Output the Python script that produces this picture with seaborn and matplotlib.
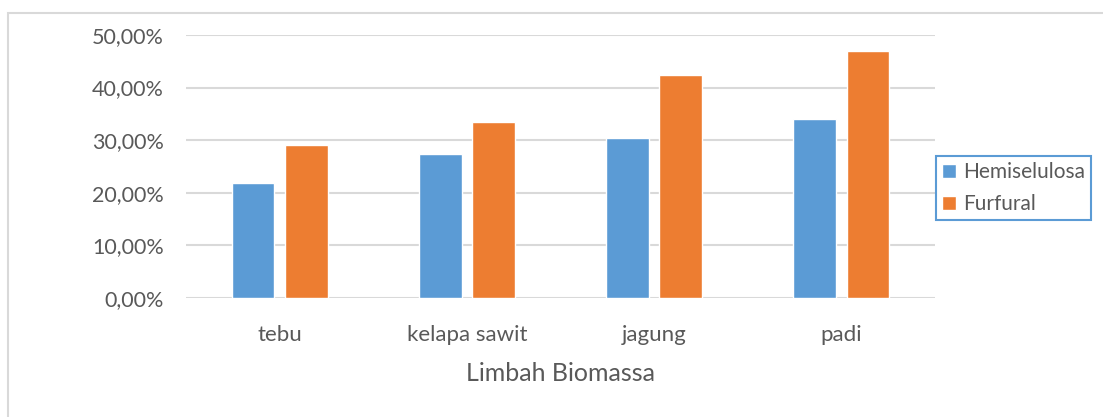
import pandas as pd
import seaborn as sns
import matplotlib.pyplot as plt
from matplotlib.patches import Rectangle
from matplotlib.ticker import FuncFormatter

# Data
limbah = ['tebu', 'kelapa sawit', 'jagung', 'padi']
hemiselulosa = [21.85, 27.4, 30.4, 34.0]
furfural = [29.1, 33.5, 42.4, 47.0]

df = pd.DataFrame({
    'Limbah': limbah * 2,
    'Nilai': hemiselulosa + furfural,
    'Seri': ['Hemiselulosa'] * 4 + ['Furfural'] * 4,
})

sns.set_style('white')
plt.rcParams['font.family'] = ['Lato', 'DejaVu Sans']

fig = plt.figure(figsize=(11.03, 4.17), dpi=100)
ax = fig.add_axes([186 / 1103, 1 - 297.7 / 417, (935 - 186) / 1103, (297.7 - 35) / 417])

# bingkai luar chart
fig.patches.append(Rectangle((8 / 1103, -0.1), 1.2, 1 - 13 / 417 + 0.1,
                             transform=fig.transFigure, fill=False,
                             edgecolor='#d9d9d9', linewidth=1.5))

sns.barplot(data=df, x='Limbah', y='Nilai', hue='Seri', ax=ax,
            palette=['#5b9bd5', '#ed7d31'], width=0.57, gap=0.2,
            saturation=1, errorbar=None)

ax.set_ylim(0, 50)
ax.set_yticks([0, 10, 20, 30, 40, 50])
ax.yaxis.set_major_formatter(FuncFormatter(lambda v, p: f'{v:.2f}%'.replace('.', ',')))
ax.grid(axis='y', color='#d9d9d9', linewidth=1.5)
ax.set_axisbelow(True)
for s in ax.spines.values():
    s.set_visible(False)
ax.tick_params(axis='y', length=0, pad=16, labelsize=15.5, labelcolor='#595959')
ax.tick_params(axis='x', length=0, pad=20, labelsize=16, labelcolor='#595959')
ax.set_ylabel('')
ax.set_xlabel('Limbah Biomassa', fontsize=18, color='#595959', labelpad=12)

ax.legend(loc='upper left', bbox_to_anchor=(936 / 1103, 1 - 155.7 / 417),
          bbox_transform=fig.transFigure, borderaxespad=0, fontsize=15,
          frameon=True, fancybox=False, edgecolor='#5b9bd5', framealpha=1,
          handlelength=0.65, handleheight=0.65, handletextpad=0.35,
          borderpad=0.3, labelspacing=0.58, labelcolor='#595959')
ax.get_legend().get_frame().set_linewidth(1.5)

fig.savefig('out.png', dpi=100)
